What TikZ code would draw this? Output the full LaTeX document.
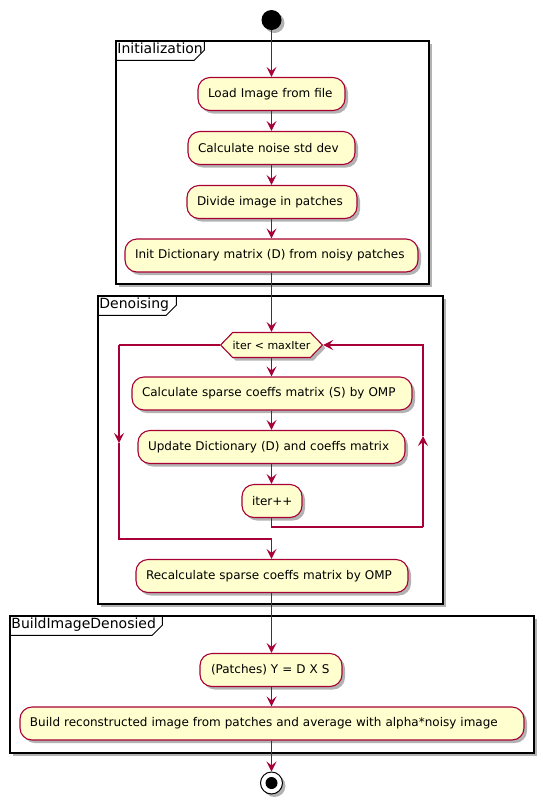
\documentclass[tikz,border=0pt]{standalone}
\usepackage{fontspec}
\setmainfont{DejaVu Sans}
\usetikzlibrary{arrows.meta,shadows,shapes.symbols}
\definecolor{plred}{HTML}{A80036}
\definecolor{plfill}{HTML}{FEFECE}
\tikzset{
 shad/.style={drop shadow={shadow xshift=3pt,shadow yshift=-3pt,opacity=0.3,fill=black}},
 act/.style={draw=plred, fill=plfill, line width=1.1pt, rounded corners=12pt, minimum height=33pt, inner ysep=0pt, inner xsep=10pt, align=left, font=\fontsize{12}{14}\selectfont, shad},
 hexa/.style={draw=plred, fill=plfill, line width=1.1pt, signal, signal to=west and east, signal pointer angle=92, minimum width=101pt, minimum height=25pt, inner sep=0pt, font=\fontsize{11}{13}\selectfont, shad},
 frm/.style={draw=black, fill=white, line width=1.5pt, inner sep=0pt, shad},
 tab/.style={anchor=north west, inner sep=2pt, font=\fontsize{14}{16}\selectfont},
 tabline/.style={draw=black, line width=1pt},
 flow/.style={draw=plred, line width=1.2pt},
 arr/.style={flow, -{Stealth[length=10pt,width=10pt,inset=4pt]}},
}
\begin{document}
\begin{tikzpicture}[x=1pt,y=-1pt]
\fill[white] (0,0) rectangle (543,804);
\useasboundingbox (0,0) rectangle (543,804);

% frames
\node[frm, minimum width=313pt, minimum height=243pt] (fInit) at (272.5,162.5) {};
\node[tab] (tInit) at (fInit.north west) {Initialization};
\draw[tabline] (fInit.north west) ++(89,0) -- ++(0,10) -- ++(-10,10) -- ++(-79,0);

\node[frm, minimum width=345pt, minimum height=308pt] (fDen) at (270.5,450) {};
\node[tab] (tDen) at (fDen.north west) {Denoising};
\draw[tabline] (fDen.north west) ++(79,0) -- ++(0,10) -- ++(-10,10) -- ++(-69,0);

\node[frm, minimum width=524pt, minimum height=137pt] (fBld) at (272,684.5) {};
\node[tab] (tBld) at (fBld.north west) {BuildImageDenosied};
\draw[tabline] (fBld.north west) ++(153,0) -- ++(0,10) -- ++(-10,10) -- ++(-143,0);

% start
\node[circle, fill=black, minimum size=20pt, inner sep=0pt, shad] (start) at (271.5,20) {};

% activities
\node[act, text width=127pt] (load) at (271.5,94) {Load Image from file};
\node[act, text width=147pt] (noise) at (271.5,148) {Calculate noise std dev};
\node[act, text width=150pt] (divide) at (272,202) {Divide image in patches};
\node[act, text width=273pt] (init) at (271.5,255.5) {Init Dictionary matrix (D) from noisy patches};

\node[hexa] (dia) at (271.5,345) {iter < maxIter};
\node[act, text width=260pt] (calc) at (272,393.5) {Calculate sparse coeffs matrix (S) by OMP};
\node[act, text width=247pt] (upd) at (271.5,447) {Update Dictionary (D) and coeffs matrix};
\node[act, text width=40pt] (it) at (272,501) {iter++};
\node[act, text width=252pt] (recalc) at (272,576) {Recalculate sparse coeffs matrix by OMP};

\node[act, text width=122pt, inner xsep=11pt, text width=120pt] (patch) at (271,670) {(Patches) Y = D X S};
\node[act, text width=484pt] (build) at (272,723.5) {Build reconstructed image from patches and average with alpha*noisy image};

% stop
\node[circle, draw=black, fill=white, line width=1pt, minimum size=22pt, inner sep=0pt, shad] (stop) at (271.5,783) {};
\node[circle, fill=black, minimum size=12pt, inner sep=0pt] (stopdot) at (stop) {};

% loop coordinates
\coordinate (rb) at (423,527);
\coordinate (rm) at (423,436);
\coordinate (rt) at (423,345);
\coordinate (lt) at (119,345);
\coordinate (lm) at (119,443);
\coordinate (lb) at (119,539);
\coordinate (mb) at (271.5,539);

% connectors
\draw[arr] (start.south) -- (load.north);
\draw[arr] (load.south) -- (noise.north);
\draw[arr] (noise.south) -- (divide.north -| load.south);
\draw[arr] (divide.south -| load.south) -- (init.north);
\draw[arr] (init.south) -- (dia.north);
\draw[arr] (dia.south) -- (calc.north -| dia.south);
\draw[arr] (calc.south -| dia.south) -- (upd.north);
\draw[arr] (upd.south) -- (it.north -| upd.south);
\draw[flow] (it.south -| upd.south) |- (rb);
\draw[arr] (rb) -- (rm);
\draw[arr] (rm) -- (rt) -- (dia.east);
\draw[flow] (dia.west) -- (lt);
\draw[arr] (lt) -- (lm);
\draw[arr] (lm) -- (lb) -- (mb) -- (recalc.north -| mb);
\draw[arr] (recalc.south -| mb) -- (patch.north -| mb);
\draw[arr] (patch.south -| mb) -- (build.north -| mb);
\draw[arr] (build.south -| mb) -- (stop.north);
\end{tikzpicture}
\end{document}
